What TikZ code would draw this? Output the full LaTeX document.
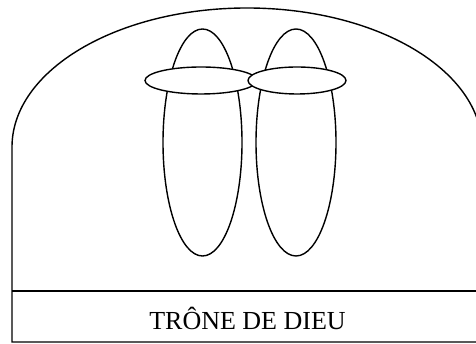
\documentclass[tikz,border=0pt]{standalone}
\usepackage{fontspec}
\setmainfont{Liberation Serif}
\usetikzlibrary{calc, positioning}

\begin{document}
\begin{tikzpicture}[x=1pt, y=1pt, line width=1.4pt,
	outline/.style={draw=black},
	halo/.style={draw=black, fill=white}]
	
	% -------------------------------------------------------------------------
	% 1. Parameters
	% -------------------------------------------------------------------------
	\def\W{476}      % picture width
	\def\H{344}      % picture height
	\def\xL{12}      % left wall
	\def\xR{482}     % right wall (outside the frame)
	\def\ySpring{197} % where the arch starts
	\def\yBase{53}   % top of the throne band
	
	\useasboundingbox (0,0) rectangle (\W,\H);
	\clip (0,0) rectangle (\W,\H);
	
	% -------------------------------------------------------------------------
	% 2. Arch and throne band
	% -------------------------------------------------------------------------
	\draw[outline] (\xL,2) -- (\xL,\ySpring)
		arc[start angle=180, end angle=0, x radius=235, y radius=139]
		-- (\xR,2) -- cycle;
	\draw[outline] (\xL,\yBase) -- (\xR,\yBase);
	\node[font=\fontsize{26}{31}\selectfont] (trone) at (247.5,25.5) {TRÔNE DE DIEU};
	
	% -------------------------------------------------------------------------
	% 3. The two figures
	% -------------------------------------------------------------------------
	\coordinate (BodyL) at (202.5,201.5);
	\coordinate (BodyR) at (296,201.5);
	\coordinate (HaloL) at (201,263.5);
	\coordinate (HaloR) at (297,263.5);
	
	\draw[outline] (BodyL) ellipse [x radius=39.5, y radius=113.5];
	\draw[outline] (BodyR) ellipse [x radius=40, y radius=113.5];
	
	\draw[halo] (HaloL) ellipse [x radius=56, y radius=13.5];
	\draw[halo] (HaloR) ellipse [x radius=49, y radius=13.5];
	
\end{tikzpicture}
\end{document}
